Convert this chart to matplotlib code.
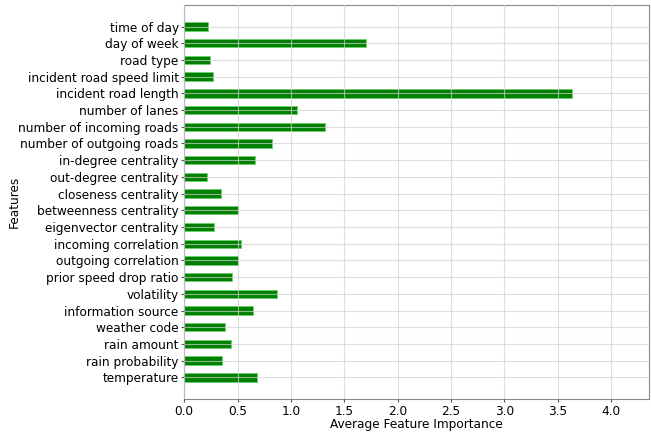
import numpy as np
import matplotlib.pyplot as plt

features = ['time of day', 'day of week', 'road type', 'incident road speed limit',
            'incident road length', 'number of lanes', 'number of incoming roads',
            'number of outgoing roads', 'in-degree centrality', 'out-degree centrality',
            'closeness centrality', 'betweenness centrality', 'eigenvector centrality',
            'incoming correlation', 'outgoing correlation', 'prior speed drop ratio',
            'volatility', 'information source', 'weather code', 'rain amount',
            'rain probability', 'temperature']
importance = [0.22, 1.70, 0.24, 0.27, 3.63, 1.06, 1.32, 0.82, 0.66, 0.21, 0.34,
              0.50, 0.28, 0.53, 0.50, 0.45, 0.87, 0.64, 0.38, 0.44, 0.35, 0.68]
xticks = [0.0, 0.5, 1.0, 1.5, 2.0, 2.5, 3.0, 3.5, 4.0]

# plot top feature first
names = features[::-1]
vals = importance[::-1]
pos = np.arange(len(names))

fs = 8.7
fig = plt.figure(figsize=(6.51, 4.4), dpi=100)
ax = fig.add_axes([0.283, 0.093, 0.714, 0.896])
ax.barh(pos, vals, height=0.5, color='green', edgecolor='#6fcf6f', linewidth=0.6)
ax.set_yticks(pos)
ax.set_yticklabels(names, fontsize=fs)
ax.set_xticks(xticks)
ax.set_xticklabels(['%.1f' % t for t in xticks], fontsize=fs)
ax.set_xlim(0, max(importance) * 1.2)
ax.set_ylim(-1.3, len(names) - 1 + 1.3)
ax.set_axisbelow(False)
ax.grid(True, color='#d0d0d0', linewidth=0.8, alpha=0.7)
ax.set_xlabel('Average Feature Importance', fontsize=fs, labelpad=0.5)
ax.set_ylabel('Features', fontsize=fs)
ax.yaxis.set_label_coords(-0.351, 0.5)
for s in ax.spines.values():
    s.set_color('#888888')
ax.tick_params(axis='both', colors='#555555', labelcolor='black', length=2, pad=2)

plt.savefig('out.png', dpi=100)
